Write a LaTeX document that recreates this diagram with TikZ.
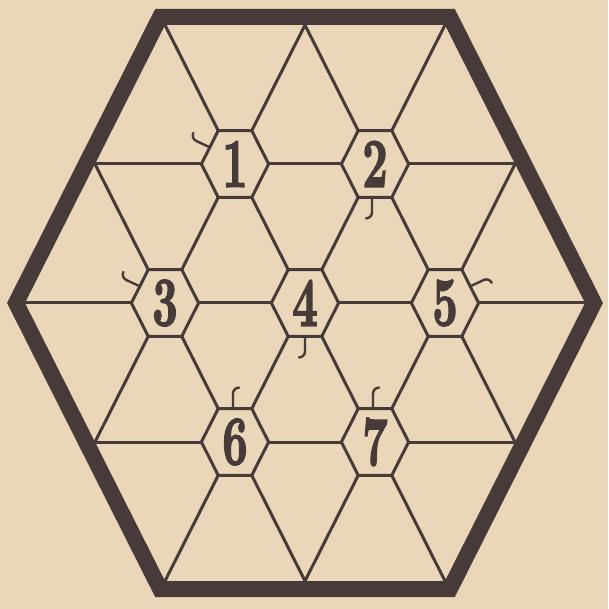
\documentclass[tikz,border=0pt]{standalone}
\usepackage{fontspec}
\usetikzlibrary{calc}
\newfontfamily\numfont{lmroman10-bold.otf}[FakeBold=2.5]
\definecolor{paper}{RGB}{234,215,186}
\definecolor{ink}{RGB}{70,59,56}
\newcommand{\digit}[1]{\scalebox{0.92}[1.45]{#1}}
\newcommand{\cellhex}[1]{%
  \path[cell] (#1) ++(-0.48,0) -- ++(0.24,0.24) -- ++(0.48,0) -- ++(0.24,-0.24)
    -- ++(-0.24,-0.24) -- ++(-0.48,0) -- cycle;}
\newcommand{\curlat}[3]{%
  \draw[curl] (#1.center) ++(#2) -- ++(#3:15pt) arc[start angle=#3+90, delta angle=-90, radius=6pt];}
\tikzset{
  lattice/.style={draw=ink, line width=3pt},
  rim/.style    ={draw=ink, line width=16pt, line join=miter},
  cell/.style   ={draw=ink, fill=paper, line width=3pt},
  num/.style    ={text=ink, font=\numfont\fontsize{48}{48}\selectfont, inner sep=0pt},
  curl/.style   ={draw=ink, line width=2.4pt, line cap=round},
}

\begin{document}
\begin{tikzpicture}[x=70pt, y=139pt]
  \useasboundingbox (-305pt,-306pt) rectangle (303pt,303pt);
  \fill[paper] (-305pt,-306pt) rectangle (303pt,303pt);
  % lattice points
  \coordinate (A1) at (-2,2);  \coordinate (A2) at (0,2);  \coordinate (A3) at (2,2);
  \coordinate (B1) at (-3,1);  \coordinate (B2) at (-1,1); \coordinate (B3) at (1,1);  \coordinate (B4) at (3,1);
  \coordinate (C1) at (-4,0);  \coordinate (C2) at (-2,0); \coordinate (C3) at (0,0);  \coordinate (C4) at (2,0);  \coordinate (C5) at (4,0);
  \coordinate (D1) at (-3,-1); \coordinate (D2) at (-1,-1); \coordinate (D3) at (1,-1); \coordinate (D4) at (3,-1);
  \coordinate (E1) at (-2,-2); \coordinate (E2) at (0,-2); \coordinate (E3) at (2,-2);
  % lines
  \draw[lattice] (B1) -- (B4);
  \draw[lattice] (C1) -- (C5);
  \draw[lattice] (D1) -- (D4);
  \draw[lattice] (D1) -- (A2);
  \draw[lattice] (E1) -- (A3);
  \draw[lattice] (E2) -- (B4);
  \draw[lattice] (B1) -- (E2);
  \draw[lattice] (A1) -- (E3);
  \draw[lattice] (A2) -- (D4);
  % numbered cells
  \foreach \p in {B2,B3,C2,C3,C4,D2,D3} {\cellhex{\p}}
  \node[num] (n1) at (B2) {\digit{1}};
  \node[num] (n2) at (B3) {\digit{2}};
  \node[num] (n3) at (C2) {\digit{3}};
  \node[num] (n4) at (C3) {\digit{4}};
  \node[num] (n5) at (C4) {\digit{5}};
  \node[num] (n6) at (D2) {\digit{6}};
  \node[num] (n7) at (D3) {\digit{7}};
  % curls
  \curlat{n1}{-25.2pt,16.7pt}{155}
  \curlat{n2}{-3pt,-33.4pt}{270}
  \curlat{n3}{-25.2pt,16.7pt}{155}
  \curlat{n4}{0pt,-33.4pt}{270}
  \curlat{n5}{25.2pt,16.7pt}{25}
  \curlat{n6}{-2pt,33.4pt}{90}
  \curlat{n7}{-2pt,33.4pt}{90}
  % frame
  \draw[rim] (-144.9pt,286pt) -- (144.9pt,286pt) -- (289pt,0pt) -- (144.9pt,-286pt)
    -- (-144.9pt,-286pt) -- (-289pt,0pt) -- cycle;
\end{tikzpicture}
\end{document}
